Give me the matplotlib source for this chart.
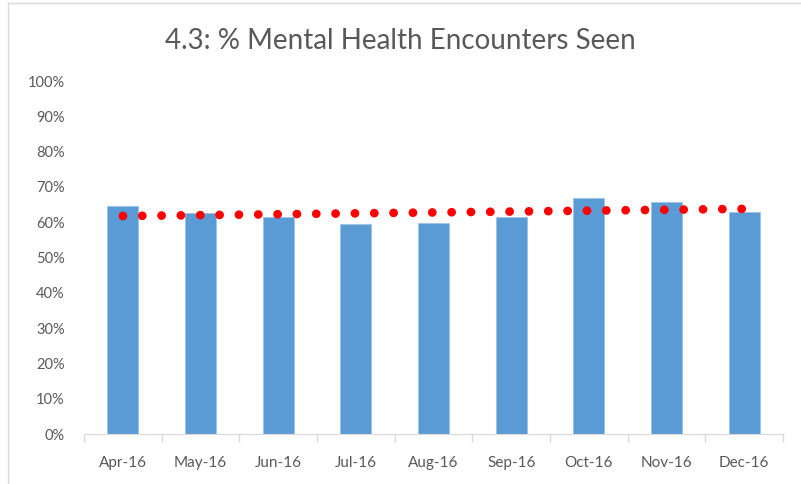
import matplotlib.pyplot as plt
import numpy as np
from matplotlib.lines import Line2D
from matplotlib.ticker import PercentFormatter

plt.rcParams["font.family"] = ["Lato", "DejaVu Sans"]

months = ["Apr-16", "May-16", "Jun-16", "Jul-16", "Aug-16",
          "Sep-16", "Oct-16", "Nov-16", "Dec-16"]
seen_pct = [64.7, 62.5, 61.5, 59.4, 59.9, 61.5, 66.8, 65.6, 63.0]
y_ticks = [0, 10, 20, 30, 40, 50, 60, 70, 80, 90, 100]

text_col = "#595959"
bar_col = "#5b9bd5"

fig = plt.figure(figsize=(8.01, 4.84), dpi=100)
ax = fig.add_axes([0.1049, 0.1033, 0.8727, 0.7293])

x = np.arange(len(months))
vals = np.array(seen_pct) / 100
ax.bar(x, vals, width=0.4, color=bar_col, edgecolor="#9dc3e6", linewidth=0.6, zorder=2)

# linear trendline like Excel's
slope, icpt = np.polyfit(x, vals, 1)
ax.plot(x, slope * x + icpt, color="#ff0000", linestyle=(0, (0.01, 2.2)),
        linewidth=6.3, dash_capstyle="round", zorder=3)

ax.set_xlim(-0.5, len(months) - 0.5)
ax.set_ylim(0, 1)
ax.set_yticks(np.array(y_ticks) / 100)
ax.yaxis.set_major_formatter(PercentFormatter(1.0, decimals=0))

ax.set_xticks(x)
ax.set_xticklabels(months)
ax.set_xticks(np.arange(-0.5, len(months)), minor=True)
ax.tick_params(axis="x", which="major", length=0, pad=16, labelsize=11, labelcolor=text_col)
ax.tick_params(axis="x", which="minor", length=6, color="#d9d9d9", width=1)
ax.tick_params(axis="y", length=0, pad=14, labelsize=10.5, labelcolor=text_col)

for side in ["top", "right", "left"]:
    ax.spines[side].set_visible(False)
ax.spines["bottom"].set_color("#d9d9d9")

fig.text(0.5, 0.915, "4.3: % Mental Health Encounters Seen", ha="center", va="center",
         fontsize=20, color=text_col)

# chart border (left and top edges visible)
fig.add_artist(Line2D([8 / 801, 8 / 801], [0, 1 - 3 / 484], color="#d9d9d9", lw=1))
fig.add_artist(Line2D([8 / 801, 1], [1 - 3 / 484, 1 - 3 / 484], color="#d9d9d9", lw=1))

fig.savefig("out.png", dpi=100)
